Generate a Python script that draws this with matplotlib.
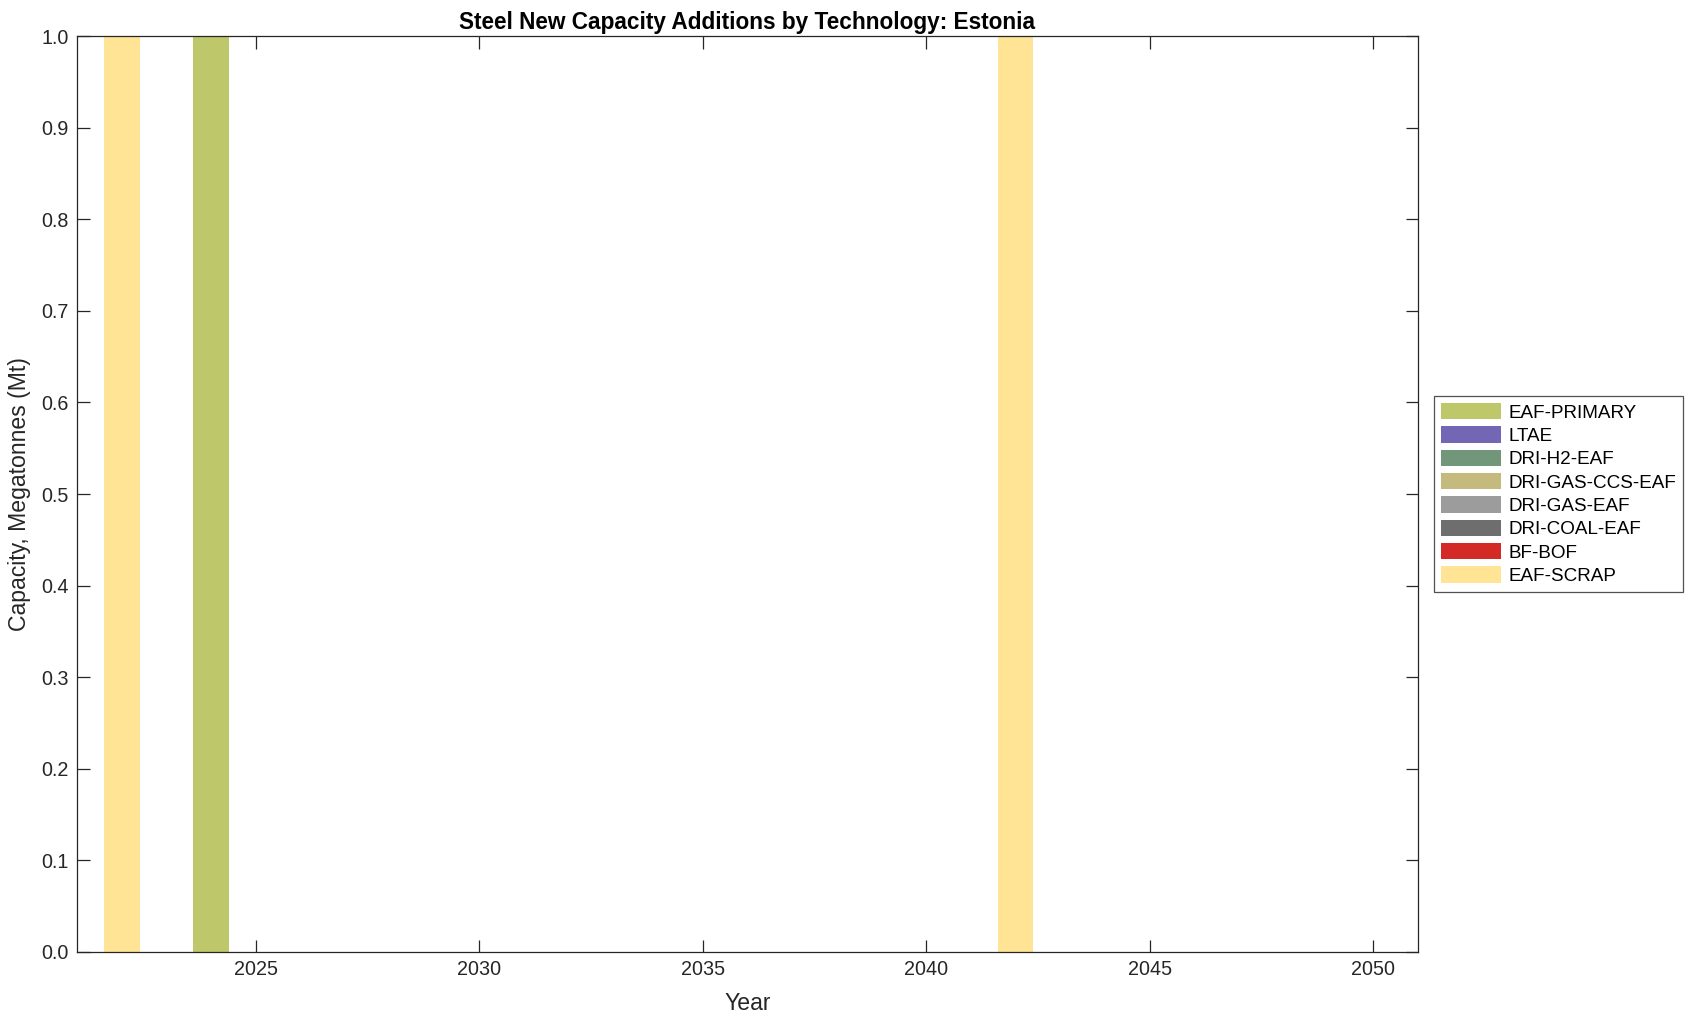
import numpy as np
import matplotlib.pyplot as plt

plt.rcParams['font.family'] = ['Liberation Sans', 'DejaVu Sans']

years = np.arange(2022, 2051)
techs = ['EAF-SCRAP', 'BF-BOF', 'DRI-COAL-EAF', 'DRI-GAS-EAF',
         'DRI-GAS-CCS-EAF', 'DRI-H2-EAF', 'LTAE', 'EAF-PRIMARY']
colors = ['#FFE495', '#D32A26', '#6E6E6E', '#9C9C9C',
          '#C4BA7E', '#71967A', '#7266B5', '#BEC86A']

# new capacity additions (Mt) per technology, only non-zero years listed
additions = {
    'EAF-SCRAP': {2022: 1.0, 2042: 1.0},
    'BF-BOF': {},
    'DRI-COAL-EAF': {},
    'DRI-GAS-EAF': {},
    'DRI-GAS-CCS-EAF': {},
    'DRI-H2-EAF': {},
    'LTAE': {},
    'EAF-PRIMARY': {2024: 1.0},
}

fig = plt.figure(figsize=(16.96, 10.21), dpi=100)
ax = fig.add_axes([0.0454, 0.0676, 0.7906, 0.8971])

bottom = np.zeros(len(years))
handles = []
for tech, col in zip(techs, colors):
    vals = np.array([additions[tech].get(y, 0.0) for y in years])
    h = ax.bar(years, vals, width=0.8, bottom=bottom, color=col, linewidth=0, label=tech)
    handles.append(h)
    bottom += vals

ax.set_xlim(2021, 2051)
ax.set_ylim(0, 1)
ax.set_xticks(np.arange(2025, 2051, 5))
ax.set_yticks(np.arange(0, 1.01, 0.1))
ax.set_yticklabels([f'{v:.1f}' for v in np.arange(0, 1.01, 0.1)])

tc = '#262626'
for s in ax.spines.values():
    s.set_color(tc)
    s.set_linewidth(0.9)
ax.tick_params(direction='in', length=9, width=0.9, top=True, right=True,
               labelsize=14.2, colors=tc, pad=6)

ax.set_xlabel('Year', fontsize=16.6, color=tc, labelpad=9)
ax.set_ylabel('Capacity, Megatonnes (Mt)', fontsize=16.6, color=tc, labelpad=7)
ax.set_title('Steel New Capacity Additions by Technology: Estonia',
             fontsize=16.3, fontweight='bold', color='black', pad=5)

leg = ax.legend(handles[::-1], techs[::-1], loc='center left',
                bbox_to_anchor=(1.012, 0.5), fontsize=13.6, frameon=True,
                fancybox=False, edgecolor=tc, handlelength=3.2,
                handleheight=0.95, labelspacing=0.25, borderpad=0.35,
                handletextpad=0.4, borderaxespad=0)
leg.get_frame().set_linewidth(0.9)

fig.savefig('out.png', dpi=100)
